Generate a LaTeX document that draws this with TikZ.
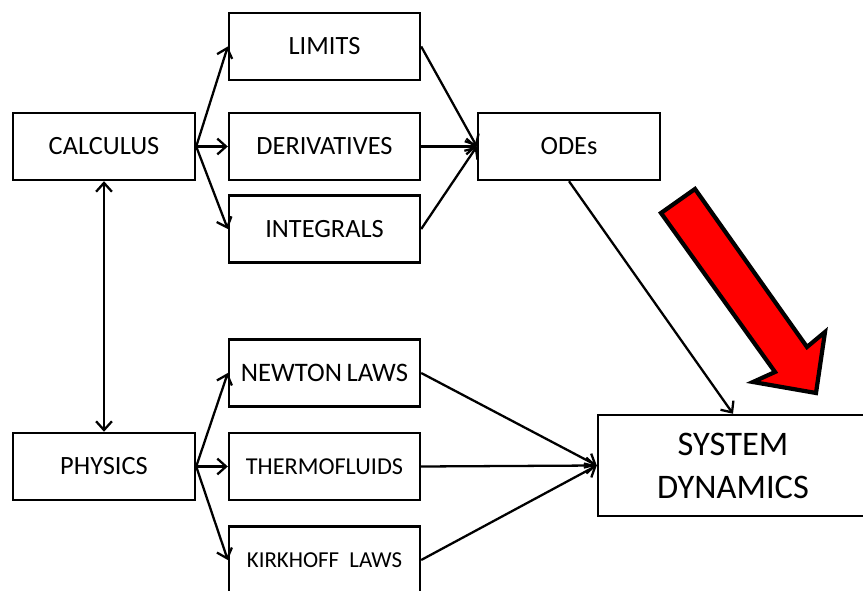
\documentclass[tikz,border=0pt]{standalone}
\usepackage{fontspec}
\setmainfont{Carlito}
\usetikzlibrary{arrows.meta}
\begin{document}
\begin{tikzpicture}[x=.02cm, y=-.02cm, >={Straight Barb[length=5pt,width=9pt]}, line width=1.3pt,
    box/.style={draw, line width=1.4pt, minimum width=3.82cm, minimum height=1.34cm, inner sep=0pt, font=\fontsize{15}{18}\selectfont}]
    \useasboundingbox (0,0) rectangle (863,591);
    
    % left column
    \node[box, minimum width=3.64cm] (calc) at (104,146.5) {CALCULUS};
    \node[box, minimum width=3.64cm] (phys) at (104,466.5) {PHYSICS};
    
    % middle column
    \node[box] (lim) at (324.5,46.5) {LIMITS};
    \node[box] (der) at (324.5,146.5) {DERIVATIVES};
    \node[box] (int) at (324.5,229) {INTEGRALS};
    \node[box, font=\fontsize{15.2}{18}\selectfont] (newt) at (324.5,373) {NEWTON\,LAWS};
    \node[box, font=\fontsize{13.8}{17}\selectfont] (therm) at (324.5,466.5) {THERMOFLUIDS};
    \node[box, font=\fontsize{13}{16}\selectfont] (kirk) at (324.5,560) {KIRKHOFF\ \ LAWS};
    
    % right
    \node[box, minimum width=3.64cm] (ode) at (569,146.5) {ODEs};
    \node[box, minimum width=5.4cm, minimum height=2.02cm, align=center,
        font=\fontsize{19.6}{24.5}\selectfont] (sys) at (733,465.5) {SYSTEM\\DYNAMICS};
    
    \draw[<->] (calc) -- (phys);
    \foreach \t in {lim,der,int}
    {
        \draw[->] (calc.east) -- (\t.west);
        \draw[->] (\t.east) -- (ode.west);
    }
    \foreach \t in {newt,therm,kirk}
    {
        \draw[->] (phys.east) -- (\t.west);
        \draw[->] (\t.east) -- (sys.west);
    }
    \draw[->] (ode.south) -- (sys.north);
    
    % big red arrow
    \draw[line width=2.4pt, fill=red, line join=miter]
        (695,189) -- (661,213) -- (775,372) -- (753,382) -- (816,393)
        -- (825,332) -- (807,347) -- cycle;
\end{tikzpicture}
\end{document}
